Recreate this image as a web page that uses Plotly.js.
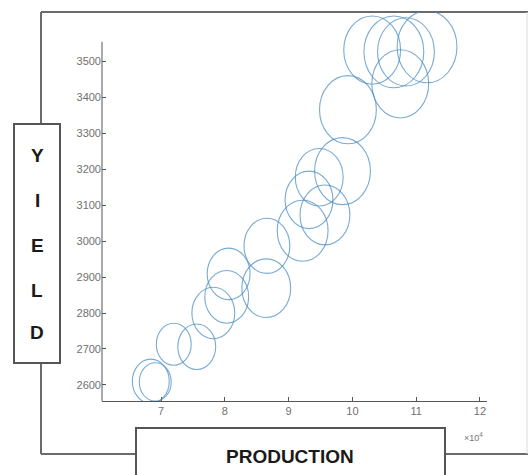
<!DOCTYPE html>
<html>
<head>
<meta charset="utf-8">
<script src="https://cdn.plot.ly/plotly-3.0.1.min.js"></script>
<style>
  html, body { margin: 0; padding: 0; background: #fff; }
  #chart { width: 528px; height: 475px; }
</style>
</head>
<body>
<div id="chart"></div>
<script>
// Production (tonnes) against yield (kg/ha); bubble = relative size of each year's record
const production = [68400, 69100, 72000, 75600, 78200, 80300, 80600, 86500, 86600,
                    92200, 93200, 95700, 94800, 98450, 99300, 103100, 106500, 108400,
                    111700, 107500];
const yieldKg    = [2610, 2608, 2713, 2706, 2800, 2845, 2909, 2869, 2987,
                    3029, 3115, 3073, 3178, 3195, 3366, 3532, 3527, 3527,
                    3541, 3438];
const bubble     = [37, 32, 35, 38, 43, 44, 43, 49, 46,
                    51, 48, 50, 48, 56, 57, 57, 60, 57,
                    60, 57];

const xTickVals = [70000, 80000, 90000, 100000, 110000, 120000];
const xTickText = ['7', '8', '9', '10', '11', '12'];
const yTickVals = [2600, 2700, 2800, 2900, 3000, 3100, 3200, 3300, 3400, 3500];

// bubble size -> ellipse half-widths in axis units
const X_PER_SIZE = 1e4 / 64;
const Y_PER_SIZE = 1.2 * 100 / 36;

// figure geometry helpers (pixel -> paper fraction)
const PL = 102, PR = 487, PT = 12, PB = 401;
const px = v => (v - PL) / (PR - PL);
const py = v => (PB - v) / (PB - PT);

const ellipseColor = 'rgba(70,138,192,0.72)';
const frameColor = '#6a6a6a';

const shapes = [];

// outer frame
shapes.push({type: 'line', xref: 'paper', yref: 'paper', x0: px(41), x1: px(528), y0: py(12), y1: py(12),
             line: {color: frameColor, width: 2}});
shapes.push({type: 'line', xref: 'paper', yref: 'paper', x0: px(41), x1: px(41), y0: py(12), y1: py(454),
             line: {color: frameColor, width: 2}});
shapes.push({type: 'line', xref: 'paper', yref: 'paper', x0: px(41), x1: px(528), y0: py(454), y1: py(454),
             line: {color: frameColor, width: 2}});
shapes.push({type: 'line', xref: 'paper', yref: 'paper', x0: px(527), x1: px(527), y0: py(12), y1: py(454),
             line: {color: '#dcdcdc', width: 1}});

// label boxes
shapes.push({type: 'rect', xref: 'paper', yref: 'paper', x0: px(14), x1: px(60), y0: py(363), y1: py(124),
             fillcolor: '#fff', line: {color: '#555', width: 2}});
shapes.push({type: 'rect', xref: 'paper', yref: 'paper', x0: px(136), x1: px(445), y0: py(490), y1: py(428),
             fillcolor: '#fff', line: {color: '#555', width: 2}});

// y spine spans only the tick region
shapes.push({type: 'line', xref: 'paper', yref: 'y', x0: 0, x1: 0, y0: 2555, y1: 3555,
             line: {color: '#555', width: 1}});

// one open ellipse per record
production.forEach((p, i) => {
  const rx = bubble[i] * X_PER_SIZE / 2;
  const ry = bubble[i] * Y_PER_SIZE / 2;
  shapes.push({type: 'circle', xref: 'x', yref: 'y',
               x0: p - rx, x1: p + rx, y0: yieldKg[i] - ry, y1: yieldKg[i] + ry,
               line: {color: ellipseColor, width: 1.1}, fillcolor: 'rgba(0,0,0,0)'});
});

const letterFont = {family: 'Liberation Sans Narrow, Liberation Sans, Arial, sans-serif', size: 19, color: '#1a1a1a', weight: 'bold'};
const annotations = [];
['Y', 'I', 'E', 'L', 'D'].forEach((ch, i) => {
  annotations.push({xref: 'paper', yref: 'paper', x: px(37), y: py([155, 200, 245, 290, 332][i]),
                    text: '<b>' + ch + '</b>', showarrow: false, font: letterFont,
                    xanchor: 'center', yanchor: 'middle'});
});
annotations.push({xref: 'paper', yref: 'paper', x: px(290), y: py(456), text: '<b>PRODUCTION</b>',
                  showarrow: false, font: letterFont, xanchor: 'center', yanchor: 'middle'});
annotations.push({xref: 'paper', yref: 'paper', x: px(473), y: py(437), text: '×10<sup>4</sup>',
                  showarrow: false, font: {family: 'Liberation Sans, Arial, sans-serif', size: 9, color: '#777'},
                  xanchor: 'center', yanchor: 'middle'});

const trace = {
  type: 'scatter', mode: 'markers', x: production, y: yieldKg,
  marker: {size: 1, opacity: 0}, hoverinfo: 'x+y', showlegend: false
};

const tickFont = {family: 'Liberation Sans, Arial, sans-serif', size: 11, color: '#707070'};

const layout = {
  width: 528, height: 475,
  margin: {l: PL, r: 528 - PR, t: PT, b: 475 - PB, pad: 0},
  paper_bgcolor: '#fff', plot_bgcolor: '#fff',
  showlegend: false,
  xaxis: {
    range: [60750, 121100], tickvals: xTickVals, ticktext: xTickText,
    ticks: 'inside', ticklen: 4, tickcolor: '#555', tickwidth: 1,
    showline: true, linecolor: '#555', linewidth: 1, mirror: false,
    showgrid: false, zeroline: false, tickfont: tickFont, fixedrange: true
  },
  yaxis: {
    range: [2555, 3638], tickvals: yTickVals,
    ticks: 'inside', ticklen: 4, tickcolor: '#555', tickwidth: 1,
    showline: false, showgrid: false, zeroline: false, tickfont: tickFont, fixedrange: true
  },
  shapes: shapes,
  annotations: annotations
};

Plotly.newPlot('chart', [trace], layout, {displayModeBar: false, staticPlot: true});
</script>
</body>
</html>
